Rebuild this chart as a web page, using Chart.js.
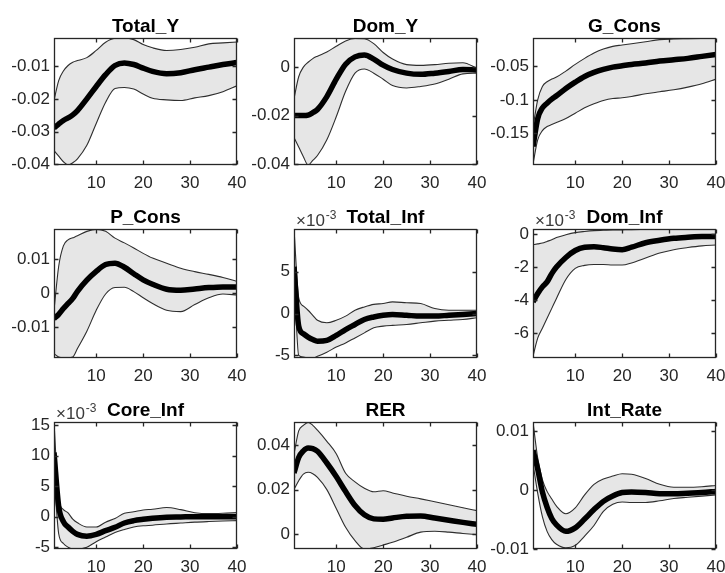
<!DOCTYPE html>
<html>
<head>
<meta charset="utf-8">
<script src="https://cdn.jsdelivr.net/npm/chart.js@4.4.1/dist/chart.umd.min.js"></script>
<style>
  html, body { margin: 0; padding: 0; background: #fff; }
  #fig { position: relative; width: 725px; height: 573px; overflow: hidden; }
  #fig canvas { position: absolute; }
</style>
</head>
<body>
<div id="fig"></div>
<script>
const steps = [1, 2, 3, 4, 5, 6, 8, 10, 12, 14, 16, 18, 20, 22, 25, 28, 31, 34, 37, 40];
const xTicks = [10, 20, 30, 40];

// Total_Y
const totalYMed = [-0.0289, -0.0277, -0.0266, -0.0258, -0.0249, -0.0236, -0.0200, -0.0162, -0.0126, -0.0098, -0.0090, -0.0095, -0.0106, -0.0116, -0.0123, -0.0120, -0.0111, -0.0103, -0.0095, -0.0089];
const totalYHi = [-0.0205, -0.0144, -0.0115, -0.0098, -0.0088, -0.0083, -0.0074, -0.0052, -0.0027, -0.0015, -0.0014, -0.0019, -0.0034, -0.0044, -0.0052, -0.0049, -0.0042, -0.0032, -0.0029, -0.0026];
const totalYLo = [-0.0358, -0.0375, -0.0392, -0.0402, -0.0395, -0.0383, -0.0342, -0.0275, -0.0210, -0.0168, -0.0165, -0.0170, -0.0185, -0.0198, -0.0203, -0.0205, -0.0197, -0.0190, -0.0178, -0.0160];
const totalYTicks = [-0.04, -0.03, -0.02, -0.01];

// Dom_Y
const domYMed = [-0.0200, -0.0200, -0.0200, -0.0198, -0.0188, -0.0175, -0.0122, -0.0050, 0.0012, 0.0042, 0.0050, 0.0033, 0.0008, -0.0010, -0.0025, -0.0030, -0.0025, -0.0018, -0.0010, -0.0012];
const domYHi = [-0.0130, -0.0040, 0.0000, 0.0020, 0.0035, 0.0045, 0.0062, 0.0086, 0.0108, 0.0118, 0.0117, 0.0097, 0.0060, 0.0033, 0.0010, 0.0007, 0.0010, 0.0016, 0.0018, -0.0005];
const domYLo = [-0.0290, -0.0330, -0.0370, -0.0404, -0.0385, -0.0365, -0.0300, -0.0205, -0.0100, -0.0025, -0.0008, -0.0025, -0.0050, -0.0076, -0.0086, -0.0080, -0.0070, -0.0050, -0.0028, -0.0025];
const domYTicks = [-0.04, -0.02, 0];

// G_Cons
const gConsMed = [-0.170, -0.128, -0.112, -0.105, -0.099, -0.094, -0.083, -0.0735, -0.065, -0.059, -0.0545, -0.051, -0.049, -0.047, -0.045, -0.042, -0.040, -0.038, -0.035, -0.032];
const gConsHi = [-0.141, -0.100, -0.080, -0.073, -0.069, -0.066, -0.057, -0.047, -0.038, -0.030, -0.024, -0.020, -0.018, -0.016, -0.013, -0.010, -0.0090, -0.0085, -0.0080, -0.0075];
const gConsLo = [-0.196, -0.160, -0.146, -0.140, -0.137, -0.134, -0.128, -0.120, -0.112, -0.106, -0.101, -0.098, -0.097, -0.095, -0.091, -0.088, -0.085, -0.081, -0.076, -0.069];
const gConsTicks = [-0.15, -0.1, -0.05];

// P_Cons
const pConsMed = [-0.0075, -0.0062, -0.0045, -0.0030, -0.0015, 0.0006, 0.0039, 0.0065, 0.0085, 0.0089, 0.0077, 0.0058, 0.0040, 0.0027, 0.0012, 0.0009, 0.0013, 0.0017, 0.0019, 0.0019];
const pConsHi = [-0.0050, 0.0080, 0.0140, 0.0158, 0.0164, 0.0170, 0.0183, 0.0189, 0.0183, 0.0163, 0.0149, 0.0134, 0.0118, 0.0104, 0.0089, 0.0074, 0.0064, 0.0056, 0.0047, 0.0035];
const pConsLo = [-0.0178, -0.0188, -0.0190, -0.0190, -0.0188, -0.0163, -0.0112, -0.0050, -0.0002, 0.0017, 0.0018, 0.0005, -0.0013, -0.0030, -0.0050, -0.0054, -0.0033, -0.0013, -0.0002, -0.0005];
const pConsTicks = [-0.01, 0, 0.01];

// Total_Inf
const totalInfMed = [0.0056, -0.0015, -0.0024, -0.0028, -0.0031, -0.0033, -0.0032, -0.0026, -0.0019, -0.0013, -0.0007, -0.0004, -0.0002, -0.0001, -0.0002, -0.0003, -0.0003, -0.0002, -0.0001, 0.0000];
const totalInfHi = [0.0101, 0.0019, 0.0009, 0.0004, -0.0002, -0.0008, -0.0011, -0.0008, -0.0003, 0.0004, 0.0008, 0.0011, 0.0012, 0.0014, 0.0013, 0.0012, 0.0006, 0.0004, 0.0004, 0.0004];
const totalInfLo = [0.0050, -0.0050, -0.0052, -0.0053, -0.0053, -0.0051, -0.0046, -0.0040, -0.0035, -0.0029, -0.0023, -0.0017, -0.0015, -0.0014, -0.0013, -0.0011, -0.0009, -0.0008, -0.0007, -0.0005];
const totalInfTicks = [-0.005, 0, 0.005];

// Dom_Inf
const domInfMed = [-0.0041, -0.0036, -0.0032, -0.0029, -0.0024, -0.0020, -0.00142, -0.0010, -0.0008, -0.00077, -0.00083, -0.00091, -0.00095, -0.0008, -0.00053, -0.00038, -0.00026, -0.0002, -0.00016, -0.00016];
const domInfHi = [-0.00065, -0.0006, -0.00055, -0.00045, -0.00035, -0.00022, -0.00005, 0.00008, 0.00015, 0.0002, 0.00022, 0.00024, 0.00025, 0.00026, 0.00027, 0.00028, 0.00028, 0.00029, 0.00029, 0.0003];
const domInfLo = [-0.0074, -0.0063, -0.0057, -0.0051, -0.0045, -0.0039, -0.00275, -0.00208, -0.0019, -0.00185, -0.00185, -0.00188, -0.00188, -0.00175, -0.00145, -0.00115, -0.00095, -0.00082, -0.00072, -0.00067];
const domInfTicks = [-0.006, -0.004, -0.002, 0];

// Core_Inf
const coreInfMed = [0.0105, 0.0017, -0.0008, -0.0017, -0.0024, -0.0029, -0.0032, -0.0029, -0.0023, -0.00175, -0.00104, -0.00066, -0.00044, -0.00027, -0.0001, -0.00005, 0, 0, 0, 0];
const coreInfHi = [0.0155, 0.0029, 0.00115, 0.0006, -0.0004, -0.0010, -0.0017, -0.0017, -0.0009, -0.0003, 0.00055, 0.0008, 0.0011, 0.0012, 0.0015, 0.00115, 0.00065, 0.0005, 0.00055, 0.00065];
const coreInfLo = [0.0070, -0.0028, -0.0044, -0.0050, -0.0053, -0.0053, -0.0050, -0.0041, -0.00335, -0.0026, -0.0021, -0.0017, -0.0015, -0.0014, -0.0012, -0.00105, -0.0009, -0.0008, -0.00072, -0.00066];
const coreInfTicks = [-0.005, 0, 0.005, 0.01, 0.015];

// RER
const rerMed = [0.0275, 0.0345, 0.0375, 0.0388, 0.0385, 0.0373, 0.0320, 0.0259, 0.0191, 0.0128, 0.0086, 0.0068, 0.0066, 0.0072, 0.0080, 0.0081, 0.0072, 0.0062, 0.0052, 0.0043];
const rerHi = [0.0360, 0.0465, 0.0490, 0.0503, 0.0490, 0.0468, 0.0418, 0.0362, 0.0274, 0.0235, 0.0206, 0.0190, 0.0195, 0.0185, 0.0170, 0.0158, 0.0145, 0.0132, 0.0118, 0.0105];
const rerLo = [0.0200, 0.0240, 0.0270, 0.0278, 0.0272, 0.0255, 0.0200, 0.0115, 0.0030, -0.0030, -0.0068, -0.0062, -0.0050, -0.0038, -0.0015, 0.0008, 0.0012, 0.0008, 0.0002, -0.0003];
const rerTicks = [0, 0.02, 0.04];

// Int_Rate
const intRateMed = [0.0068, 0.0036, -0.0003, -0.0029, -0.0048, -0.0059, -0.0070, -0.0064, -0.0049, -0.0033, -0.0019, -0.0010, -0.0004, -0.0003, -0.0004, -0.0006, -0.0006, -0.0005, -0.0004, -0.0002];
const intRateHi = [0.0116, 0.0055, 0.0018, -0.0002, -0.0015, -0.0027, -0.0040, -0.0030, -0.0008, 0.0010, 0.0019, 0.0024, 0.0028, 0.0027, 0.0020, 0.0010, 0.0005, 0.0005, 0.0006, 0.0008];
const intRateLo = [0.0045, -0.0005, -0.0045, -0.0070, -0.0084, -0.0092, -0.0098, -0.0094, -0.0078, -0.0060, -0.0036, -0.0024, -0.0020, -0.0021, -0.0021, -0.0018, -0.0014, -0.0012, -0.0010, -0.0008];
const intRateTicks = [-0.01, 0, 0.01];

// vi tri cac o trong hinh (pixel)
const colLeft = [54, 294, 533];
const rowTop = [38, 229, 422];
const rowH = [127, 129, 127];
const plotW = 183;

const FONT = '"Liberation Sans", Arial, Helvetica, sans-serif';
const TXT = '#262626';

// khung truc kieu MATLAB: hop kin, vach chia huong vao trong
const boxPlugin = {
    id: 'axesBox',
    afterDraw(chart) {
        const { ctx, chartArea: a, scales } = chart;
        const l = Math.round(a.left) + 0.5, r = Math.round(a.right) - 0.5;
        const t = Math.round(a.top) + 0.5, b = Math.round(a.bottom) - 0.5;
        ctx.save();
        ctx.strokeStyle = TXT;
        ctx.lineWidth = 1.3;
        ctx.strokeRect(l, t, r - l, b - t);
        ctx.beginPath();
        scales.x.ticks.forEach(function(tk) {
            const px = Math.round(scales.x.getPixelForValue(tk.value)) + 0.5;
            ctx.moveTo(px, b); ctx.lineTo(px, b - 4);
            ctx.moveTo(px, t); ctx.lineTo(px, t + 4);
        });
        scales.y.ticks.forEach(function(tk) {
            const py = Math.round(scales.y.getPixelForValue(tk.value)) + 0.5;
            ctx.moveTo(l, py); ctx.lineTo(l + 4, py);
            ctx.moveTo(r, py); ctx.lineTo(r - 4, py);
        });
        ctx.stroke();
        ctx.restore();
    }
};

// nhan "x10^-3" o goc tren ben trai
const expPlugin = {
    id: 'expLabel',
    afterDraw(chart, args, opts) {
        if (!opts.text) return;
        const { ctx, chartArea: a } = chart;
        const x0 = a.left + 2, y0 = a.top - 3;
        ctx.save();
        ctx.fillStyle = '#3a3a3a';
        ctx.textBaseline = 'alphabetic';
        ctx.textAlign = 'left';
        ctx.font = '17px ' + FONT;
        ctx.fillText('\u00d710', x0, y0);
        const w = ctx.measureText('\u00d710').width;
        ctx.font = '12px ' + FONT;
        ctx.fillText(opts.text, x0 + w + 1, y0 - 7);
        ctx.restore();
    }
};

function toPoints(arr) {
    return steps.map(function(x, i) { return { x: x, y: arr[i] }; });
}

function drawPanel(idx, title, med, lo, hi, yMin, yMax, yTicks, milli) {
    const col = idx % 3, row = Math.floor(idx / 3);
    const yW = 60, padR = 14, xH = 30, top = 38;
    const w = yW + plotW + padR, h = top + rowH[row] + xH;
    const titleBox = 19 * 1.2;

    const canvas = document.createElement('canvas');
    canvas.width = w; canvas.height = h;
    canvas.style.width = w + 'px'; canvas.style.height = h + 'px';
    canvas.style.left = (colLeft[col] - yW) + 'px';
    canvas.style.top = (rowTop[row] - top) + 'px';
    document.getElementById('fig').appendChild(canvas);

    const band = { borderColor: '#2e2e2e', borderWidth: 1.1, pointRadius: 0, cubicInterpolationMode: 'monotone' };
    const data = {
        datasets: [
            { data: toPoints(med), borderColor: '#000', borderWidth: 5.5, pointRadius: 0,
              cubicInterpolationMode: 'monotone', fill: false, order: 0 },
            Object.assign({}, band, { data: toPoints(lo), fill: false, order: 1 }),
            Object.assign({}, band, { data: toPoints(hi), fill: 1, backgroundColor: '#e6e6e6', order: 2 })
        ]
    };

    const config = {
        type: 'line',
        data: data,
        options: {
            responsive: false,
            animation: false,
            devicePixelRatio: 1,
            layout: { padding: { top: top - titleBox, left: 0, right: padR, bottom: 0 } },
            plugins: {
                legend: { display: false },
                tooltip: { enabled: false },
                title: {
                    display: true, text: title, fullSize: false, color: '#000',
                    font: { family: FONT, size: 19, weight: 'bold', lineHeight: 1.2 },
                    padding: { top: 0, bottom: 0 }
                },
                expLabel: { text: milli ? '-3' : '' }
            },
            scales: {
                x: {
                    type: 'linear', min: 1, max: 40,
                    grid: { display: false, drawTicks: false }, border: { display: false },
                    afterBuildTicks: function(s) { s.ticks = xTicks.map(function(v) { return { value: v }; }); },
                    afterFit: function(s) { s.height = xH; s.paddingLeft = 0; s.paddingRight = 0; },
                    ticks: { color: TXT, font: { family: FONT, size: 17 }, padding: 8, maxRotation: 0 }
                },
                y: {
                    type: 'linear', min: yMin, max: yMax,
                    grid: { display: false, drawTicks: false }, border: { display: false },
                    afterBuildTicks: function(s) { s.ticks = yTicks.map(function(v) { return { value: v }; }); },
                    afterFit: function(s) { s.width = yW; s.paddingTop = 0; s.paddingBottom = 0; },
                    ticks: {
                        color: TXT, font: { family: FONT, size: 17 }, padding: 4,
                        callback: function(v) {
                            return milli ? String(Math.round(v * 1000)) : String(parseFloat(v.toFixed(4)));
                        }
                    }
                }
            }
        },
        plugins: [boxPlugin, expPlugin]
    };

    new Chart(canvas.getContext('2d'), config);
}

drawPanel(0, 'Total_Y', totalYMed, totalYLo, totalYHi, -0.0402, -0.0014, totalYTicks, false);
drawPanel(1, 'Dom_Y', domYMed, domYLo, domYHi, -0.0404, 0.012, domYTicks, false);
drawPanel(2, 'G_Cons', gConsMed, gConsLo, gConsHi, -0.1975, -0.0075, gConsTicks, false);
drawPanel(3, 'P_Cons', pConsMed, pConsLo, pConsHi, -0.0191, 0.019, pConsTicks, false);
drawPanel(4, 'Total_Inf', totalInfMed, totalInfLo, totalInfHi, -0.0053, 0.0101, totalInfTicks, true);
drawPanel(5, 'Dom_Inf', domInfMed, domInfLo, domInfHi, -0.0075, 0.0003, domInfTicks, true);
drawPanel(6, 'Core_Inf', coreInfMed, coreInfLo, coreInfHi, -0.0053, 0.0155, coreInfTicks, true);
drawPanel(7, 'RER', rerMed, rerLo, rerHi, -0.0068, 0.0505, rerTicks, false);
drawPanel(8, 'Int_Rate', intRateMed, intRateLo, intRateHi, -0.0100, 0.0116, intRateTicks, false);
</script>
</body>
</html>
